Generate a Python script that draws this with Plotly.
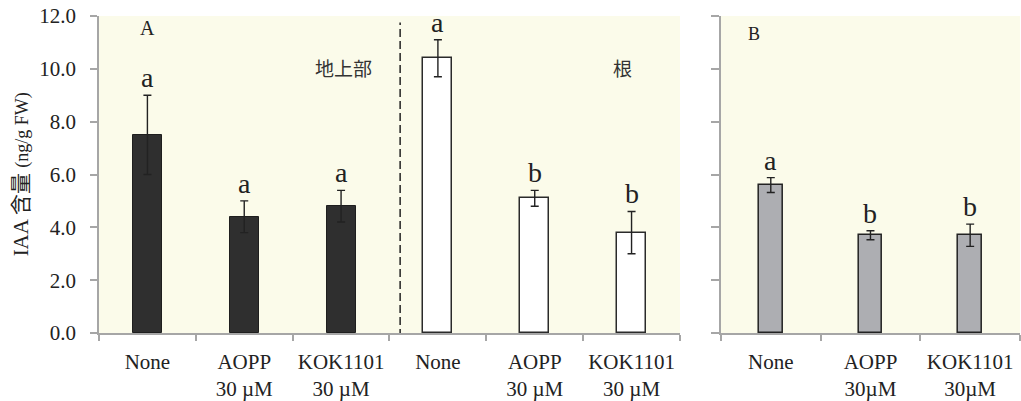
import plotly.graph_objects as go

# ---------------- data ----------------
labels_A = ["None", "AOPP<br>30 µM", "KOK1101<br>30 µM",
            "None", "AOPP<br>30 µM", "KOK1101<br>30 µM"]
labels_B = ["None", "AOPP<br>30µM", "KOK1101<br>30µM"]

shoot_vals = [7.5, 4.4, 4.8]
shoot_err = [1.5, 0.6, 0.6]
shoot_letters = ["a", "a", "a"]

root_vals = [10.4, 5.1, 3.8]
root_err = [0.7, 0.3, 0.8]
root_letters = ["a", "b", "b"]

b_vals = [5.6, 3.7, 3.7]
b_err = [0.28, 0.17, 0.42]
b_letters = ["a", "b", "b"]

y_ticks = [0, 2, 4, 6, 8, 10, 12]

# ---------------- style ----------------
SERIF = "Liberation Serif"
CJK = "Noto Sans CJK JP"
AXC = "#a6a6a6"
BG = "#fbfbea"
DARK = "#222222"

x_shoot = list(range(0, 3))
x_root = list(range(3, 6))
x_b = list(range(0, 3))

fig = go.Figure()

def err(arr):
    return dict(type="data", array=arr, visible=True, color=DARK, thickness=1.4, width=4)

fig.add_trace(go.Bar(x=x_shoot, y=shoot_vals, width=0.3, error_y=err(shoot_err),
                     marker=dict(color="#2f2f2f", line=dict(color="#1e1e1e", width=1)),
                     xaxis="x", yaxis="y", showlegend=False))
fig.add_trace(go.Bar(x=x_root, y=root_vals, width=0.3, error_y=err(root_err),
                     marker=dict(color="#ffffff", line=dict(color="#2a2a2a", width=1.5)),
                     xaxis="x", yaxis="y", showlegend=False))
fig.add_trace(go.Bar(x=x_b, y=b_vals, width=0.24, error_y=err(b_err),
                     marker=dict(color="#adaeb2", line=dict(color="#222222", width=1.5)),
                     xaxis="x2", yaxis="y2", showlegend=False))

annotations = []
for xs, vs, es, ls, xr, yr in [(x_shoot, shoot_vals, shoot_err, shoot_letters, "x", "y"),
                               (x_root, root_vals, root_err, root_letters, "x", "y"),
                               (x_b, b_vals, b_err, b_letters, "x2", "y2")]:
    for xi, v, e, l in zip(xs, vs, es, ls):
        annotations.append(dict(x=xi, y=v + e, xref=xr, yref=yr, text=l, showarrow=False,
                                yanchor="bottom", yshift=0,
                                font=dict(family=SERIF, size=28, color="#222")))

annotations += [
    dict(x=0, y=11.55, xref="x", yref="y", text="A", showarrow=False, yanchor="middle",
         xanchor="center", font=dict(family=SERIF, size=20, color="#222")),
    dict(x=2.02, y=10.05, xref="x", yref="y", text="地上部", showarrow=False,
         yanchor="middle", font=dict(family=CJK, size=19, color="#333")),
    dict(x=4.91, y=10.05, xref="x", yref="y", text="根", showarrow=False,
         yanchor="middle", font=dict(family=CJK, size=19, color="#333")),
    dict(x=-0.17, y=11.3, xref="x2", yref="y2", text="B", showarrow=False,
         yanchor="middle", font=dict(family=SERIF, size=18, color="#222")),
    dict(x=-0.087, y=0.5, xref="paper", yref="paper", textangle=-90, showarrow=False,
         xanchor="center", yanchor="middle",
         text="IAA <span style='font-family:Noto Sans CJK JP'>含量</span> <span style='font-size:18px'>(ng/g FW)</span>",
         font=dict(family=SERIF, size=21, color="#222")),
]

shapes = [dict(type="line", xref="x", yref="y", x0=2.61, x1=2.61, y0=-0.15, y1=11.75,
               line=dict(color="#222", width=1.5, dash="8px,4px"))]

common_x = dict(showline=True, linecolor=AXC, linewidth=1.5, showgrid=False, zeroline=False,
                ticks="", ticklen=0, ticklabelstandoff=9,
                tickfont=dict(family=SERIF, size=21, color="#222"))

fig.update_layout(
    width=1021, height=401,
    margin=dict(l=99, r=1, t=16, b=68),
    paper_bgcolor="white", plot_bgcolor=BG,
    bargap=0,
    xaxis=dict(domain=[0, 0.6308], range=[-0.5, 5.5], tickvals=list(range(6)), ticktext=labels_A,
               minor=dict(tickvals=[i - 0.5 for i in range(7)], ticks="outside", ticklen=6,
                          tickcolor=AXC, tickwidth=1.5, showgrid=False),
               **common_x),
    xaxis2=dict(domain=[0.6753, 1], range=[-0.5, 2.5], tickvals=list(range(3)), ticktext=labels_B,
                minor=dict(tickvals=[i - 0.5 for i in range(4)], ticks="outside", ticklen=6,
                           tickcolor=AXC, tickwidth=1.5, showgrid=False),
                anchor="y2", **common_x),
    yaxis=dict(range=[0, 12], tickvals=y_ticks, tickformat=".1f", ticks="outside", ticklen=7,
               tickcolor=AXC, tickwidth=1.5, showline=True, linecolor=AXC, linewidth=1.5,
               showgrid=False, zeroline=False, ticklabelstandoff=10,
               tickfont=dict(family=SERIF, size=21, color="#222")),
    yaxis2=dict(range=[0, 12], tickvals=y_ticks, ticks="outside", ticklen=8, anchor="x2",
                tickcolor=AXC, tickwidth=1.5, showline=True, linecolor=AXC, linewidth=1.5,
                showgrid=False, zeroline=False, showticklabels=False),
    annotations=annotations,
    shapes=shapes,
)

fig.write_html("out.html", config={"displayModeBar": False},
               post_script="document.body.style.margin='0';document.body.style.padding='0';")
